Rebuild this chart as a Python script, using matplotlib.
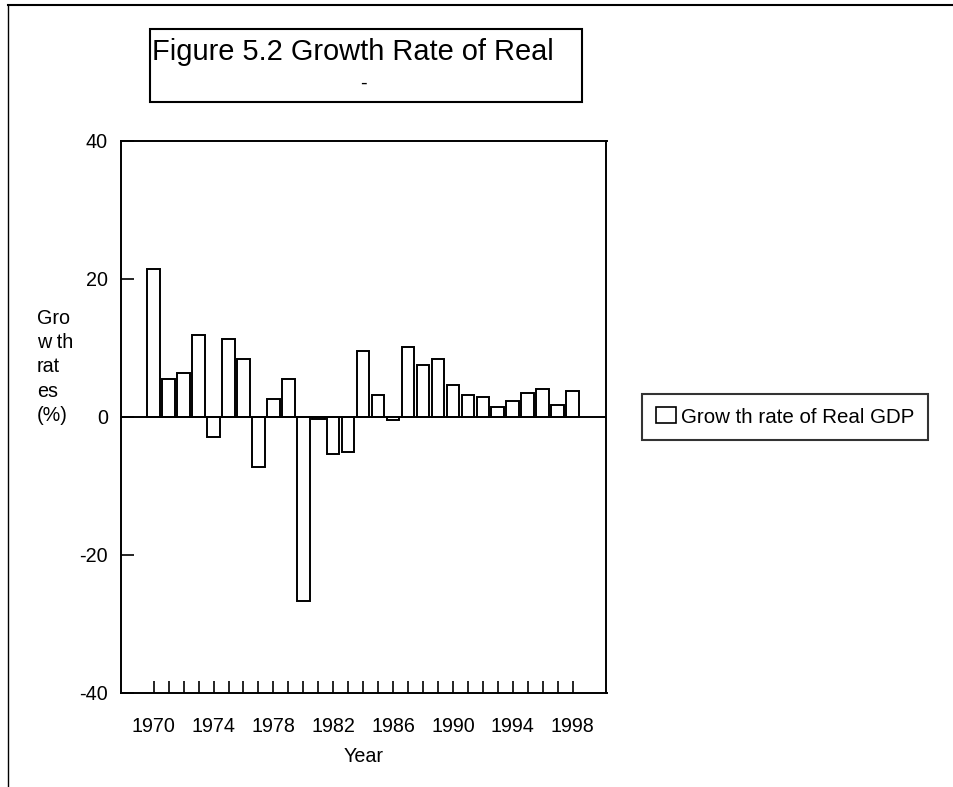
import matplotlib
matplotlib.use("Agg")
import matplotlib.pyplot as plt
from matplotlib.patches import Rectangle
from matplotlib.lines import Line2D

plt.rcParams['font.family'] = ['Liberation Sans', 'DejaVu Sans']
plt.rcParams['axes.unicode_minus'] = False

years = list(range(1970, 1999))
growth = [21.4, 5.5, 6.4, 11.9, -2.9, 11.3, 8.4, -7.2, 2.6, 5.5,
          -26.7, -0.3, -5.3, -5.0, 9.6, 3.2, -0.5, 10.2, 7.6, 8.4,
          4.7, 3.2, 2.9, 1.45, 2.3, 3.5, 4.1, 1.75, 3.8]
year_labels = [str(y) if (y - 1970) % 4 == 0 else "" for y in years]
y_ticks = [-40, -20, 0, 20, 40]
title_line1 = "Figure 5.2 Growth Rate of Real"
title_line2 = "-"
legend_label = "Grow th rate of Real GDP"

W, H = 954, 787
fig = plt.figure(figsize=(W / 100, H / 100), dpi=100)

def fx(px):
    return px / W

def fy(py):
    return 1 - py / H

ax = fig.add_axes([fx(120.5), fy(693), fx(606.5) - fx(120.5), fy(141) - fy(693)])
ax.bar(years, growth, width=0.84, facecolor='white', edgecolor='black',
       linewidth=1.4, label=legend_label, zorder=2)
ax.axhline(0, color='black', linewidth=1.4, zorder=3)
ax.set_xlim(1967.78, 2000.27)
ax.set_ylim(-40, 40)
ax.set_xticks(years)
ax.set_xticklabels(year_labels)
ax.set_yticks(y_ticks)
ax.tick_params(axis='x', direction='in', length=8.6, width=1.2, pad=17,
               labelsize=14.2)
ax.tick_params(axis='y', direction='in', length=9.2, width=1.2, pad=9,
               labelsize=14.2)
for s in ax.spines.values():
    s.set_linewidth(1.4)
ax.set_xlabel("Year", fontsize=14.2, labelpad=8)

fig.text(fx(37), fy(367), "Gro\nw th\nrat\nes\n(%)", fontsize=14.2,
         ha='left', va='center', linespacing=1.36)

# Title box
fig.patches.append(Rectangle((fx(150), fy(102)), fx(582) - fx(150), fy(29) - fy(102),
                             transform=fig.transFigure, facecolor='white',
                             edgecolor='black', linewidth=1.5))
fig.text(fx(152), fy(60), title_line1, fontsize=20.9, ha='left', va='baseline')
fig.text(fx(363), fy(89), title_line2, fontsize=14.2, ha='center', va='baseline')

# Figure border (top and left)
fig.add_artist(Line2D([fx(8), 1], [fy(5), fy(5)], transform=fig.transFigure,
                      color='black', linewidth=1.5))
fig.add_artist(Line2D([fx(8), fx(8)], [fy(5), 0], transform=fig.transFigure,
                      color='black', linewidth=1.0))

leg = ax.legend(loc='center left', bbox_to_anchor=(fx(642), fy(417)),
                bbox_transform=fig.transFigure, borderaxespad=0,
                fontsize=14.8, frameon=True, fancybox=False, shadow=False,
                handlelength=0.95, handleheight=0.8, handletextpad=0.25,
                borderpad=0.68)
leg.get_frame().set_edgecolor('black')
leg.get_frame().set_linewidth(1.5)
for h in leg.legend_handles:
    h.set_linewidth(1.2)

fig.savefig("out.png", dpi=100, facecolor='white')
